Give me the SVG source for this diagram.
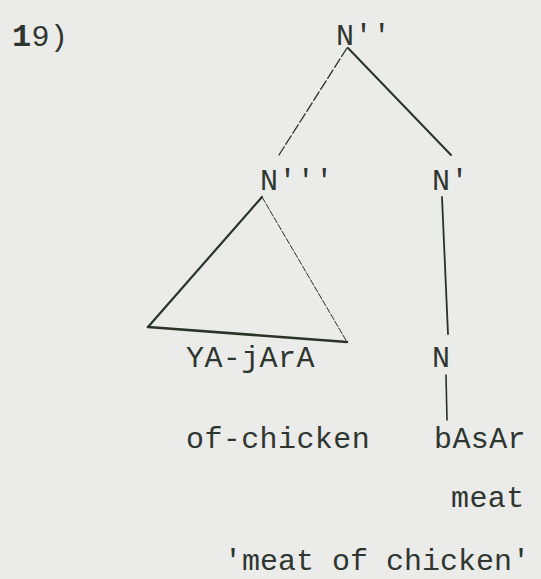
<svg xmlns="http://www.w3.org/2000/svg" width="541" height="579" viewBox="0 0 541 579">
<style>
text{font-family:"Liberation Mono","DejaVu Sans Mono",monospace;font-size:30px;fill:#2f3630;letter-spacing:0.4px}
.ln{stroke:#2a3329;fill:none;stroke-linecap:round}
</style>
<rect width="541" height="579" fill="#ebebea"/>
<g id="label"><text x="12" y="46"><tspan font-weight="bold" font-size="32">1</tspan>9)</text></g>
<g id="n-bar2"><text x="336" y="45">N''</text></g>
<g id="n-bar3"><text x="260" y="190">N'''</text></g>
<g id="n-bar1"><text x="432" y="190">N'</text></g>
<g id="n"><text x="432" y="367">N</text></g>
<g id="triangle"><path class="ln" d="M262,197 L148,327" stroke-width="2.2"/><path class="ln" d="M262,197 L347,342" stroke-width="1" stroke-dasharray="6 2"/><path class="ln" d="M148,327 L347,342" stroke-width="2.6"/></g>
<g id="yajara"><text x="186" y="367">YA-jArA</text></g>
<g id="ofchicken"><text x="186" y="448">of-chicken</text></g>
<g id="basar"><text x="434" y="448">bAsAr</text></g>
<g id="meat"><text x="451" y="507">meat</text></g>
<g id="gloss"><text x="224" y="570" style="letter-spacing:0">'meat of chicken'</text></g>
<g id="connectors">
<path class="ln" d="M347,48 L279,155" stroke-width="1.3" stroke-dasharray="10 3"/>
<path class="ln" d="M348,48 L451,155" stroke-width="2"/>
<path class="ln" d="M442,197 L448,334" stroke-width="1.8"/>
<path class="ln" d="M446,375 L447,420" stroke-width="1.6"/>
</g>
</svg>
